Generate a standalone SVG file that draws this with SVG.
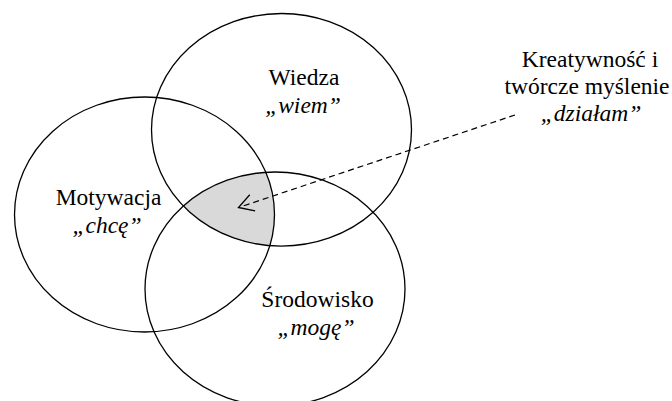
<svg xmlns="http://www.w3.org/2000/svg" width="672" height="401" viewBox="0 0 672 401">
  <style>
    .ring { fill: none; stroke: #000; stroke-width: 1.3; }
    .lbl { font-family: Liberation Serif, Tinos, Noto Serif, FreeSerif, DejaVu Serif, serif; font-size: 23.5px; fill: #000; text-anchor: middle; }
    .it { font-style: italic; }
    .conn { fill: none; stroke: #000; stroke-width: 1.2; stroke-dasharray: 6 4; }
  </style>
  <defs>
    <clipPath id="clipTop"><ellipse cx="281.5" cy="129.8" rx="130" ry="116.3"/></clipPath>
    <clipPath id="clipLeft"><ellipse cx="144.5" cy="214.5" rx="130" ry="117.5"/></clipPath>
    <marker id="openArrow" markerUnits="userSpaceOnUse" markerWidth="20" markerHeight="20" viewBox="-17 -10 20 20" refX="0" refY="0" orient="auto">
      <path d="M -14.7 -8.5 L 0 0 L -14.7 8.5" fill="none" stroke="#000" stroke-width="1.3"/>
    </marker>
  </defs>
  <rect width="672" height="401" fill="#fff"/>

  <g id="intersection" clip-path="url(#clipLeft)">
    <ellipse cx="275" cy="289" rx="130" ry="117" fill="#d9d9d9" clip-path="url(#clipTop)"/>
  </g>

  <g id="node-wiedza">
    <ellipse class="ring" cx="281.5" cy="129.8" rx="130" ry="116.3"/>
    <text class="lbl" font-family="Liberation Serif" x="304" y="85">Wiedza</text>
    <text class="lbl it" font-family="Liberation Serif" x="303" y="113">„wiem”</text>
  </g>

  <g id="node-motywacja">
    <ellipse class="ring" cx="144.5" cy="214.5" rx="130" ry="117.5"/>
    <text class="lbl" font-family="Liberation Serif" x="108.5" y="205">Motywacja</text>
    <text class="lbl it" font-family="Liberation Serif" x="107" y="233">„chcę”</text>
  </g>

  <g id="node-srodowisko">
    <ellipse class="ring" cx="275" cy="289" rx="130" ry="117"/>
    <text class="lbl" font-family="Liberation Serif" x="317.5" y="307">Środowisko</text>
    <text class="lbl it" font-family="Liberation Serif" x="316" y="335">„mogę”</text>
  </g>

  <g id="node-kreatywnosc">
    <text class="lbl" font-family="Liberation Serif" x="590" y="66.5">Kreatywność i</text>
    <text class="lbl" font-family="Liberation Serif" x="587" y="93.5">twórcze myślenie</text>
    <text class="lbl it" font-family="Liberation Serif" x="591" y="120.5">„działam”</text>
  </g>

  <g id="connectors">
    <line class="conn" x1="515" y1="115" x2="238.5" y2="207.5" marker-end="url(#openArrow)"/>
  </g>
</svg>
